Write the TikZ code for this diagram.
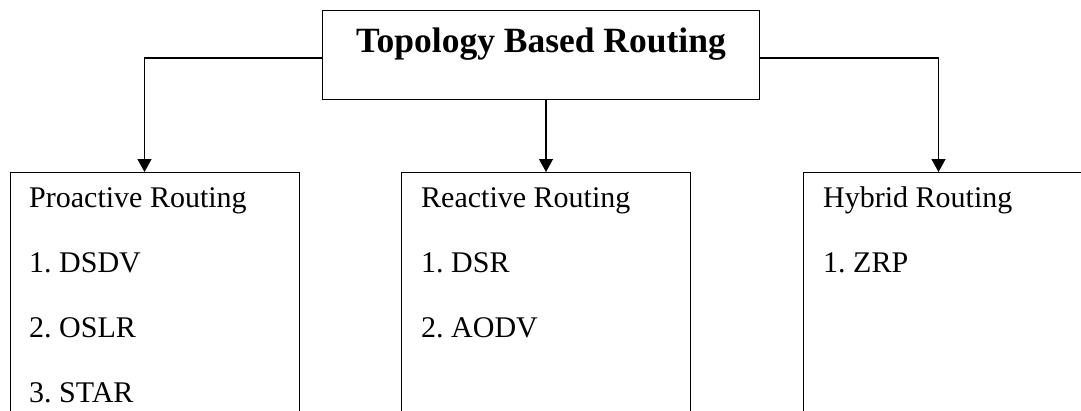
\documentclass[tikz,border=0pt]{standalone}
\usepackage{fontspec}
\setmainfont{Liberation Serif}
\usetikzlibrary{arrows.meta,positioning}
\frenchspacing

\begin{document}
\begin{tikzpicture}[
    x=1pt, y=-1pt,
    >={Triangle[width=14pt,length=13pt]},
    title box/.style={draw=black, line width=1pt, inner sep=0pt, minimum width=437pt,
        text height=42pt, text depth=47pt, font=\fontsize{35.5}{40}\selectfont\bfseries},
    branch/.style={draw=black, line width=1pt, anchor=north west, inner sep=0pt,
        minimum width=289pt, minimum height=260pt},
    item/.style={anchor=base west, inner sep=0pt, font=\fontsize{30}{34}\selectfont},
    link/.style={->, line width=1.3pt}
]
    \path[use as bounding box, clip] (0,0) rectangle (1081,410);

    \node[title box] (topo) at (541,10) [anchor=north] {Topology Based Routing};

    \node[branch] (proactive) at (10,172) {};
    \node[branch] (reactive) at (401,172) {};
    \node[branch] (hybrid) at (803,172) {};

    % contents of the three boxes
    \foreach \txt [count=\i] in {Proactive Routing, 1. DSDV, 2. OSLR, 3. STAR}
        \node[item] (pro-\i) at ([xshift=19pt,yshift={-35pt-65.3pt*(\i-1)}]proactive.north west) {\txt};
    \foreach \txt [count=\i] in {Reactive Routing, 1. DSR, 2. AODV}
        \node[item] (rea-\i) at ([xshift=20pt,yshift={-35pt-65.3pt*(\i-1)}]reactive.north west) {\txt};
    \foreach \txt [count=\i] in {Hybrid Routing, 1. ZRP}
        \node[item] (hyb-\i) at ([xshift=20pt,yshift={-35pt-65.3pt*(\i-1)}]hybrid.north west) {\txt};

    \draw[link] ([yshift=-3pt]topo.west) -| ([xshift=-10.5pt]proactive.north);
    \draw[link] (topo.south -| reactive.north) -- (reactive.north);
    \draw[link] ([yshift=-3pt]topo.east) -| ([xshift=-9.5pt]hybrid.north);
\end{tikzpicture}
\end{document}
